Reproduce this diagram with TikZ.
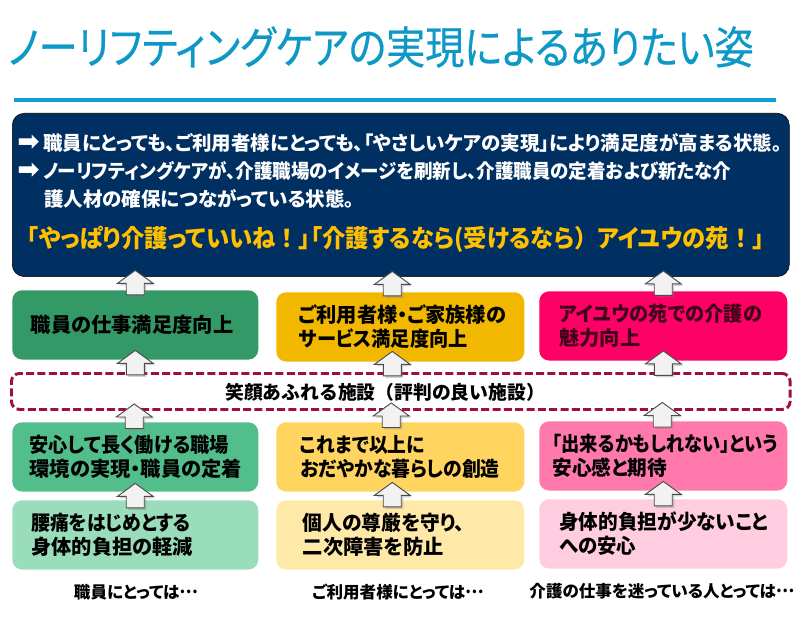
\documentclass[tikz,border=0pt]{standalone}
\usepackage{fontspec}
\usepackage{graphicx}
\usetikzlibrary{calc, positioning, shadows}

\newfontfamily\jpfont[RawFeature=+palt]{Noto Sans CJK JP}
\newfontfamily\jpplain{Noto Sans CJK JP}
\newfontfamily\jptitle[RawFeature=+palt, FakeBold=0.5]{Noto Sans CJK JP}
\newfontfamily\arrowfont{DejaVu Sans}
\newcommand{\sq}[2]{\scalebox{#1}[1]{#2}}
\newcommand{\bigarrow}{\makebox[19.5pt][l]{\smash{\arrowfont\fontsize{20}{20}\selectfont ➡}}}
\newcommand{\middots}{\raisebox{.3em}{\jpplain …}}
% full width marks
\newcommand{\fwbang}{{\jpplain\char"FF01}}
\newcommand{\fwopen}{{\jpplain\char"FF08}}
\newcommand{\fwclose}{{\jpplain\char"FF09}}

\definecolor{titleblue}{HTML}{0E98C6}
\definecolor{rulecolor}{HTML}{0F9ED5}
\definecolor{navy}{HTML}{002F62}
\definecolor{gold}{HTML}{FFC000}
\definecolor{crimson}{HTML}{A00F3C}
\definecolor{greenA}{HTML}{339966}
\definecolor{greenB}{HTML}{52BE8C}
\definecolor{greenC}{HTML}{9ADDBB}
\definecolor{yellowA}{HTML}{F2B800}
\definecolor{yellowB}{HTML}{FFD45F}
\definecolor{yellowC}{HTML}{FFE9A8}
\definecolor{pinkA}{HTML}{FF0066}
\definecolor{pinkB}{HTML}{FF79AC}
\definecolor{pinkC}{HTML}{FFCCE0}

\tikzset{
  box/.style={rounded corners=7.5pt, minimum height=52pt, text width=#1, align=left, inner ysep=0pt,
    font=\jpfont\bfseries\fontsize{15.2}{18}\selectfont, anchor=north west},
  box/.default=150pt,
  navyline/.style={anchor=west, inner sep=0pt, text=white, font=\jpfont\bfseries\fontsize{14.6}{16}\selectfont},
  caption/.style={inner sep=0pt, font=\jpfont\bfseries\fontsize{12.4}{14}\selectfont},
  blockarrow/.style 2 args={draw=black!70, fill=black!5, line width=.7pt,
    drop shadow={shadow xshift=1.5pt, shadow yshift=-1.5pt, opacity=.35},
    to path={($(\tikztostart.north)!.5!(\tikztostart.north|-\tikztotarget.south)+(#1,#2)$)
      +(0,-12.5) -- +(18,.5) -- +(9,.5) -- +(9,12) -- +(-9,12) -- +(-9,.5) -- +(-18,.5) -- cycle}},
}

\begin{document}
\begin{tikzpicture}[x=.75pt, y=-.75pt]

\useasboundingbox (0,0) rectangle (805,627);

\node [anchor=west, inner sep=0pt, text=titleblue, font=\jptitle\fontsize{33.5}{36}\selectfont] (title) at (8,47) {\sq{.875}{ノーリフティングケアの実現によるありたい姿}};

\coordinate (ruleL) at (14,100);
\coordinate (ruleR) at (776,100);
\draw [rulecolor, line width=3pt] (ruleL) -- (ruleR);

% top box
\node [box=580.75pt, fill=navy, draw=black, rounded corners=9pt, minimum height=122.5pt, inner xsep=1pt] (goal) at (12,113) {};
\node [navyline] (lineA) at (17,143) {\bigarrow 職員にとっても、ご利用者様にとっても、「やさしいケアの実現」により満足度が高まる状態。};
\node [navyline] (lineB) at (17,171) {\bigarrow\sq{.95}{ノーリフティングケアが、介護職場のイメージを刷新し、介護職員の定着および新たな介}};
\node [navyline] (lineC) at (44,199) {護人材の確保につながっている状態。};
\node [navyline, text=gold, font=\jpfont\bfseries\fontsize{18.4}{20}\selectfont] (lineD) at (27,239) {\sq{.95}{「やっぱり介護っていいね\fwbang」「介護するなら(受けるなら\fwclose アイユウの苑\fwbang」}};

% upper row
\node [box=156.5pt, fill=greenA, inner xsep=14pt] (staffA) at (12,290) {職員の仕事満足度向上};
\node [box=152pt, fill=yellowA, inner xsep=17pt] (userA) at (276,292) {ご利用者様・ご家族様の\\\sq{.95}{サービス満足度向上}};
\node [box=156pt, fill=pinkA, text=black!75!pinkA, inner xsep=15pt] (parkA) at (539,291) {\sq{.95}{アイユウの苑での介護の}\\魅力向上};

\node [draw=crimson, dash pattern=on 6pt off 2.5pt, line width=2.2pt, rounded corners=6pt, minimum width=584pt, minimum height=27pt, anchor=north west, inner sep=0pt] (smile) at (10,372) {};
\node [inner sep=0pt, font=\jpplain\bfseries\fontsize{14.1}{16}\selectfont] (smileText) at (385,392) {笑顔あふれる施設\fwopen 評判の良い施設\fwclose};

% middle row
\node [box=158.5pt, fill=greenB, inner xsep=13pt] (staffB) at (12,422) {\sq{.95}{安心して長く働ける職場}\\環境の実現・職員の定着};
\node [box=150pt, fill=yellowB, inner xsep=18pt] (userB) at (276,422) {\sq{.93}{これまで以上に}\\\sq{.93}{おだやかな暮らしの創造}};
\node [box=166pt, fill=pinkB, inner xsep=10pt] (parkB) at (539,421) {\sq{.9}{「出来るかもしれない」という}\\\sq{.97}{安心感と期待}};

% lower row
\node [box=156pt, fill=greenC, inner xsep=14.25pt] (staffC) at (12,500) {\sq{.93}{腰痛をはじめとする}\\身体的負担の軽減};
\node [box=146pt, fill=yellowC, inner xsep=20pt] (userC) at (276,500) {\sq{.975}{個人の尊厳を守り、}\\二次障害を防止};
\node [box=156pt, fill=pinkC, inner xsep=15pt] (parkC) at (539,499) {\sq{.97}{身体的負担が少ないこと}\\\sq{.96}{への安心}};

\node [caption] (capA) at (136,592) {職員にとっては\middots};
\node [caption] (capB) at (398,592) {ご利用者様にとっては\middots};
\node [caption] (capC) at (662,591) {介護の仕事を迷っている人とっては\middots};

\draw [blockarrow={0}{-.5}] (staffA) to (goal);
\draw [blockarrow={-8}{-.5}] (userA) to (goal);
\draw [blockarrow={0}{-.5}] (parkA) to (goal);
\draw [blockarrow={-265.5}{-3}] (smile) to (staffA);
\draw [blockarrow={-8.5}{-3}] (smile) to (userA);
\draw [blockarrow={262.5}{-3}] (smile) to (parkA);
\draw [blockarrow={-1}{0}] (staffB) to (smile);
\draw [blockarrow={-9}{-1}] (userB) to (smile);
\draw [blockarrow={-1}{-1}] (parkB) to (smile);
\draw [blockarrow={0}{0}] (staffC) to (staffB);
\draw [blockarrow={-8}{-1}] (userC) to (userB);
\draw [blockarrow={0}{-1}] (parkC) to (parkB);

\end{tikzpicture}
\end{document}
